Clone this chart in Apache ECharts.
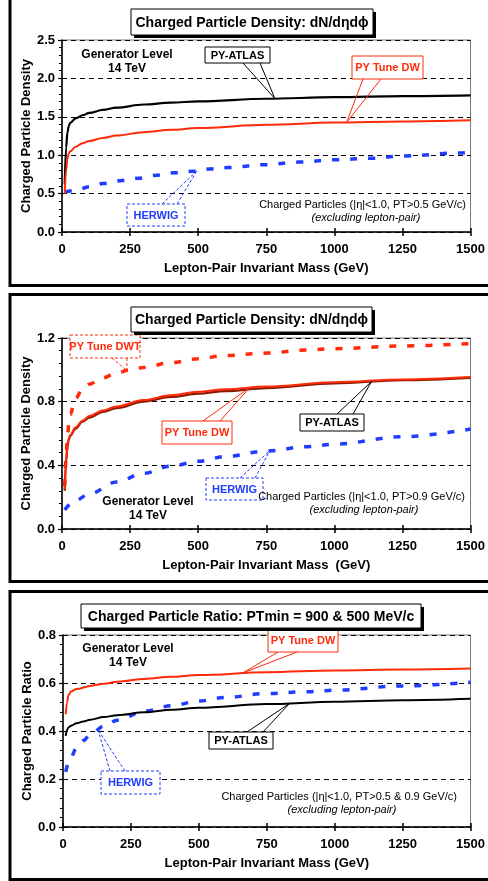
<!DOCTYPE html>
<html>
<head>
<meta charset="utf-8">
<script src="https://cdn.jsdelivr.net/npm/echarts@6/dist/echarts.min.js"></script>
<style>html,body{margin:0;padding:0;background:#fff}#c{width:488px;height:881px}</style>
</head>
<body>
<div id="c"></div>
<script>
// ---------- DATA ----------
const xTicks = [0, 250, 500, 750, 1000, 1250, 1500];

// Panel 1: density, PT>0.5
const p1AtlasM = [10,15,20,25,30,50,75,100,150,200,300,400,500,750,1000,1250,1500];
const p1AtlasV = [0.62,1.10,1.30,1.38,1.42,1.48,1.52,1.55,1.59,1.62,1.66,1.685,1.70,1.735,1.755,1.77,1.78];
const p1DwM = [10,15,20,25,30,50,75,100,150,200,300,400,500,750,1000,1250,1500];
const p1DwV = [0.50,0.80,0.96,1.02,1.05,1.11,1.155,1.185,1.225,1.255,1.30,1.33,1.355,1.395,1.425,1.44,1.455];
const p1HerM = [10,50,100,150,220,280,350,410,480,540,610,740,870,1000,1130,1260,1460,1500];
const p1HerV = [0.52,0.54,0.59,0.63,0.67,0.70,0.74,0.77,0.79,0.82,0.84,0.875,0.91,0.94,0.96,0.99,1.03,1.04];

// Panel 2: density, PT>0.9
const p2DwtM = [10,15,20,25,30,50,75,100,150,200,250,300,400,500,600,750,900,1000,1250,1500];
const p2DwtV = [0.27,0.45,0.58,0.66,0.72,0.82,0.88,0.91,0.95,0.98,1.0,1.015,1.045,1.07,1.09,1.105,1.125,1.133,1.15,1.165];
const p2AtlasM = [10,15,20,25,30,50,75,100,150,200,300,400,500,600,750,1000,1250,1500];
const p2AtlasV = [0.24,0.42,0.52,0.56,0.585,0.63,0.675,0.70,0.735,0.76,0.80,0.83,0.85,0.866,0.885,0.915,0.935,0.95];
const p2DwM = [10,15,20,25,30,50,75,100,150,200,300,400,500,600,750,1000,1250,1500];
const p2DwV = [0.25,0.43,0.53,0.57,0.59,0.64,0.68,0.71,0.745,0.77,0.81,0.84,0.862,0.878,0.895,0.922,0.94,0.955];
const p2HerM = [10,50,100,200,300,400,500,600,750,900,1000,1250,1500];
const p2HerV = [0.12,0.18,0.22,0.295,0.35,0.395,0.425,0.455,0.49,0.517,0.533,0.58,0.628];

// Panel 3: ratio
const p3DwM = [10,15,20,30,50,100,150,200,300,400,500,750,1000,1250,1500];
const p3DwV = [0.47,0.52,0.55,0.565,0.575,0.588,0.597,0.605,0.617,0.626,0.633,0.645,0.652,0.656,0.66];
const p3AtlasM = [10,15,20,30,50,75,100,150,200,300,400,500,750,1000,1250,1500];
const p3AtlasV = [0.38,0.405,0.415,0.422,0.432,0.44,0.447,0.458,0.466,0.478,0.489,0.497,0.512,0.522,0.528,0.534];
const p3HerM = [10,25,50,75,100,150,200,300,400,500,600,750,900,1000,1250,1500];
const p3HerV = [0.23,0.28,0.33,0.36,0.385,0.42,0.445,0.483,0.505,0.525,0.54,0.556,0.564,0.57,0.588,0.603];

// ---------- STYLE ----------
const FONT = 'Liberation Sans, Arial, sans-serif';
const BLACK = '#000000', RED = '#ff2a0a', BLUE = '#1f3cff', DARKRED = '#8a1a00';

function pairs(m, v) { return m.map((x, i) => [x, v[i]]); }

function solid(name, g, m, v, color, w) {
  return { name, type: 'line', xAxisIndex: g * 2, yAxisIndex: g, data: pairs(m, v),
    smooth: 0.35, smoothMonotone: 'x', showSymbol: false, silent: true,
    lineStyle: { color, width: w || 2 }, z: 5 };
}
function dashed(name, g, m, v, color) {
  return { name, type: 'line', xAxisIndex: g * 2, yAxisIndex: g, data: pairs(m, v),
    smooth: 0.35, smoothMonotone: 'x', showSymbol: false, silent: true,
    lineStyle: { color, width: 3.5, type: [7, 11] }, z: 4 };
}

const grids = [
  { left: 62, top: 40, right: 17, height: 192 },
  { left: 62, top: 338, right: 17, height: 191 },
  { left: 63, top: 635, right: 17, height: 192 }
].map(g => Object.assign(g, { show: true, borderColor: '#777', borderWidth: 1, backgroundColor: 'transparent' }));

const xNames = ['Lepton-Pair Invariant Mass (GeV)', 'Lepton-Pair Invariant Mass  (GeV)', 'Lepton-Pair Invariant Mass (GeV)'];
const yNames = ['Charged Particle Density', 'Charged Particle Density', 'Charged Particle Ratio'];
const yMax = [2.5, 1.2, 0.8], yInt = [0.5, 0.4, 0.2];

const xAxes = [], yAxes = [];
for (let g = 0; g < 3; g++) {
  xAxes.push({
    type: 'value', gridIndex: g, min: xTicks[0], max: xTicks[xTicks.length - 1], interval: xTicks[1] - xTicks[0],
    name: xNames[g], nameLocation: 'middle', nameGap: 30, nameMoveOverlap: false,
    nameTextStyle: { fontFamily: FONT, fontWeight: 'bold', fontSize: 13, color: '#000' },
    axisLine: { show: true, onZero: false, lineStyle: { color: '#000', width: 1.5 } },
    axisTick: { show: true, inside: false, length: 4, lineStyle: { color: '#000', width: 1.5 } },
    axisLabel: { fontFamily: FONT, fontWeight: 'bold', fontSize: 13, color: '#000', margin: 11,
      formatter: v => String(v) },
    splitLine: { show: false }
  });
  xAxes.push({
    type: 'value', gridIndex: g, min: xTicks[0], max: xTicks[xTicks.length - 1], interval: xTicks[1] - xTicks[0],
    position: 'bottom',
    axisLine: { show: false },
    axisTick: { show: true, inside: true, length: 4, lineStyle: { color: '#000', width: 1.5 } },
    axisLabel: { show: false }, splitLine: { show: false }
  });
  yAxes.push({
    type: 'value', gridIndex: g, min: 0, max: yMax[g], interval: yInt[g],
    name: yNames[g], nameLocation: 'middle', nameGap: 29, nameRotate: 90, nameMoveOverlap: false,
    nameTextStyle: { fontFamily: FONT, fontWeight: 'bold', fontSize: 13, color: '#000' },
    axisLine: { show: true, lineStyle: { color: '#000', width: 1.5 } },
    axisTick: { show: true, length: 4, lineStyle: { color: '#000', width: 1.2 } },
    minorTick: { show: true, splitNumber: 5, length: 3, lineStyle: { color: '#000', width: 1 } },
    axisLabel: { fontFamily: FONT, fontWeight: 'bold', fontSize: 13, color: '#000', margin: 7,
      formatter: v => v.toFixed(1) },
    splitLine: { show: true, lineStyle: { color: '#000', width: 1, type: [5, 4] } }
  });
}

const series = [
  solid('PY-ATLAS', 0, p1AtlasM, p1AtlasV, BLACK, 2.2),
  solid('PY Tune DW', 0, p1DwM, p1DwV, RED, 2),
  dashed('HERWIG', 0, p1HerM, p1HerV, BLUE),

  dashed('PY Tune DWT', 1, p2DwtM, p2DwtV, RED),
  solid('PY-ATLAS', 1, p2AtlasM, p2AtlasV, DARKRED, 2.2),
  solid('PY Tune DW', 1, p2DwM, p2DwV, RED, 2),
  dashed('HERWIG', 1, p2HerM, p2HerV, BLUE),

  solid('PY Tune DW', 2, p3DwM, p3DwV, RED, 2),
  solid('PY-ATLAS', 2, p3AtlasM, p3AtlasV, BLACK, 2),
  dashed('HERWIG', 2, p3HerM, p3HerV, BLUE)
];

const chart = echarts.init(document.getElementById('c'), null, { renderer: 'canvas' });
chart.setOption({
  animation: false, backgroundColor: '#fff',
  grid: grids, xAxis: xAxes, yAxis: yAxes, series
});

// ---------- ANNOTATIONS ----------
const titles = [
  { text: 'Charged Particle Density: dN/dηdϕ', box: [131, 9, 242, 26] },
  { text: 'Charged Particle Density: dN/dηdϕ', box: [131, 307, 241, 25] },
  { text: 'Charged Particle Ratio: PTmin = 900 & 500 MeV/c', box: [81, 604, 340, 24] }
];
const frames = [[10, -10, 500, 295.5], [10, 294.5, 500, 287], [10, 591.5, 500, 288]];

const callouts = [
  { g: 0, text: 'PY-ATLAS', color: BLACK, dash: false, box: [205, 47, 65, 16], from: [[243, 63], [260, 63]], to: [782, 1.735] },
  { g: 0, text: 'PY Tune DW', color: RED, dash: false, box: [352, 56, 71, 23], from: [[363, 79], [381, 79]], to: [1045, 1.428] },
  { g: 0, text: 'HERWIG', color: BLUE, dash: true, box: [127, 204, 58, 22], from: [[162, 204], [177, 204]], to: [495, 0.795] },

  { g: 1, text: 'PY Tune DWT', color: RED, dash: true, box: [70, 335, 70, 23], from: [[112, 358], [127, 358]], to: [238, 0.995] },
  { g: 1, text: 'PY Tune DW', color: RED, dash: false, box: [162, 421, 70, 23], from: [[203, 421], [220, 421]], to: [690, 0.89] },
  { g: 1, text: 'PY-ATLAS', color: BLACK, dash: false, box: [300, 414, 64, 17], from: [[337, 414], [353, 414]], to: [1136, 0.926] },
  { g: 1, text: 'HERWIG', color: BLUE, dash: true, box: [206, 478, 57, 22], from: [[240, 478], [255, 478]], to: [763, 0.492] },

  { g: 2, text: 'PY Tune DW', color: RED, dash: false, box: [268, 628, 70, 24], from: [[278, 652], [297, 652]], to: [662, 0.642] },
  { g: 2, text: 'PY-ATLAS', color: BLACK, dash: false, box: [209, 732, 64, 17], from: [[247, 732], [263, 732]], to: [834, 0.515] },
  { g: 2, text: 'HERWIG', color: BLUE, dash: true, box: [101, 771, 59, 23], from: [[110, 771], [125, 771]], to: [129, 0.405] }
];

const notes = [
  { lines: ['Generator Level', '14 TeV'], x: 127, y: 55 },
  { lines: ['Generator Level', '14 TeV'], x: 148, y: 502 },
  { lines: ['Generator Level', '14 TeV'], x: 128, y: 649 }
];
const cpNotes = [
  { text: 'Charged Particles (|η|<1.0, PT>0.5 GeV/c)', right: 466, y: 205, cx: 366 },
  { text: 'Charged Particles (|η|<1.0, PT>0.9 GeV/c)', right: 465, y: 497, cx: 364 },
  { text: 'Charged Particles (|η|<1.0, PT>0.5 & 0.9 GeV/c)', right: 457, y: 797, cx: 342 }
];

const gfx = [];
frames.forEach(f => gfx.push({ type: 'rect', shape: { x: f[0], y: f[1], width: f[2], height: f[3] },
  style: { fill: 'none', stroke: '#000', lineWidth: 3 }, z: 100, silent: true }));

titles.forEach(t => {
  const [x, y, w, h] = t.box;
  gfx.push({ type: 'rect', shape: { x: x + 3, y: y + 3, width: w, height: h }, style: { fill: '#000' }, z: 100 });
  gfx.push({ type: 'rect', shape: { x, y, width: w, height: h }, style: { fill: '#fff', stroke: '#000', lineWidth: 1 }, z: 101 });
  gfx.push({ type: 'text', x: x + w / 2, y: y + h / 2 + 1, z: 102,
    style: { text: t.text, fill: '#000', font: 'bold 14px ' + FONT, textAlign: 'center', textVerticalAlign: 'middle' } });
});

callouts.forEach(c => {
  const [x, y, w, h] = c.box;
  const p = chart.convertToPixel({ gridIndex: c.g }, c.to);
  const ls = c.dash ? [3, 2] : null;
  c.from.forEach(f => gfx.push({ type: 'line', shape: { x1: f[0], y1: f[1], x2: p[0], y2: p[1] }, z: 90,
    style: { stroke: c.color, lineWidth: 1, lineDash: ls } }));
  gfx.push({ type: 'rect', shape: { x, y, width: w, height: h }, z: 91,
    style: { fill: '#fff', stroke: c.color, lineWidth: 1, lineDash: ls } });
  gfx.push({ type: 'text', x: x + w / 2, y: y + h / 2 + 0.5, z: 92,
    style: { text: c.text, fill: c.color, font: 'bold 11px ' + FONT, textAlign: 'center', textVerticalAlign: 'middle' } });
});

notes.forEach(n => n.lines.forEach((l, i) => gfx.push({ type: 'text', x: n.x, y: n.y + i * 14, z: 92,
  style: { text: l, fill: '#000', font: 'bold 12px ' + FONT, textAlign: 'center', textVerticalAlign: 'middle' } })));

cpNotes.forEach(n => {
  gfx.push({ type: 'text', x: n.right, y: n.y, z: 92,
    style: { text: n.text, fill: '#000', font: '11px ' + FONT, textAlign: 'right', textVerticalAlign: 'middle' } });
  gfx.push({ type: 'text', x: n.cx, y: n.y + 13, z: 92,
    style: { text: '(excluding lepton-pair)', fill: '#000', font: 'italic 11px ' + FONT, textAlign: 'center', textVerticalAlign: 'middle' } });
});

chart.setOption({ graphic: gfx });
</script>
</body>
</html>
